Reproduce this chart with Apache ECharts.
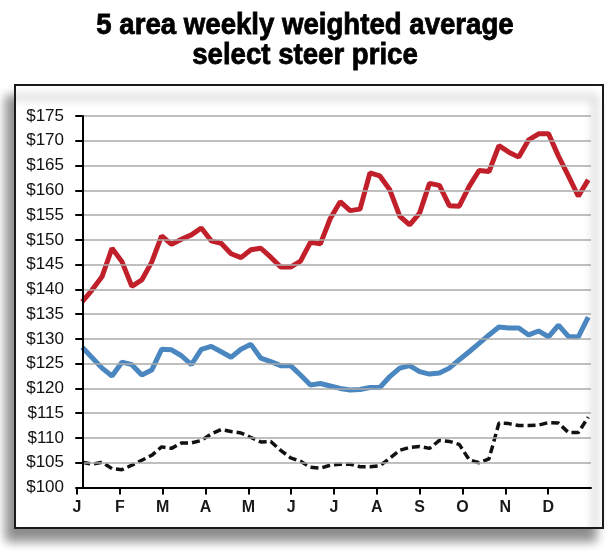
<!DOCTYPE html>
<html>
<head>
<meta charset="utf-8">
<script src="https://cdn.jsdelivr.net/npm/echarts@6/dist/echarts.min.js"></script>
<style>
  html, body { margin: 0; padding: 0; background: #fff; }
  #chart { width: 610px; height: 556px; }
</style>
</head>
<body>
<div id="chart"></div>
<script>
// month labels for the bottom axis (last slot is the year end, no label)
var months = ['J', 'F', 'M', 'A', 'M', 'J', 'J', 'A', 'S', 'O', 'N', 'D', ''];

// weekly prices ($/cwt)
var redLine = [137.5, 139.9, 142.6, 148.3, 145.6, 140.6, 141.9, 145.5, 150.8, 149.1, 150.1, 151.0, 152.4,
  149.8, 149.3, 147.2, 146.4, 148.0, 148.3, 146.5, 144.5, 144.5, 145.7, 149.5, 149.2,
  154.3, 157.7, 155.9, 156.2, 163.5, 162.9, 160.1, 154.8, 153.0, 155.4, 161.4, 161.0, 156.9,
  156.8, 160.8, 164.0, 163.8, 169.0, 167.7, 166.7, 170.2, 171.4, 171.4, 166.9, 162.9, 158.8, 162.1];

var blueLine = [128.3, 126.2, 124.1, 122.5, 125.3, 124.8, 122.7, 123.7, 127.9, 127.8, 126.6, 124.8, 127.9,
  128.5, 127.4, 126.3, 127.9, 128.9, 126.1, 125.4, 124.6, 124.6, 122.7, 120.7, 121.0,
  120.5, 120.0, 119.7, 119.8, 120.2, 120.2, 122.4, 124.1, 124.6, 123.4, 122.9, 123.1, 124.1,
  125.8, 127.4, 129.1, 130.8, 132.4, 132.2, 132.2, 130.8, 131.6, 130.4, 132.8, 130.5, 130.4, 134.4];

var blackLine = [105.1, 104.7, 105.1, 103.8, 103.6, 104.5, 105.5, 106.5, 108.2, 107.9, 109.0, 109.0, 109.5,
  110.8, 111.7, 111.3, 111.0, 110.1, 109.2, 109.3, 107.5, 106.0, 105.3, 104.1, 103.9,
  104.5, 104.7, 104.7, 104.2, 104.2, 104.4, 105.9, 107.5, 108.1, 108.3, 107.9, 109.5, 109.3,
  108.7, 105.6, 105.0, 105.8, 113.0, 112.9, 112.5, 112.5, 112.6, 113.1, 113.0, 111.1, 111.1, 114.2];

// pair each value with its week number
function byWeek(arr) {
  return arr.map(function (v, i) { return [i, v]; });
}

var chart = echarts.init(document.getElementById('chart'));

var titleFont = 'bold 30px "Liberation Sans", Arial, sans-serif';

chart.setOption({
  backgroundColor: '#fff',
  animation: false,
  graphic: [
    {
      type: 'rect',
      z: -10,
      shape: { x: 15, y: 85, width: 588, height: 443 },
      style: {
        fill: '#fff',
        stroke: '#1a1a1a',
        lineWidth: 2,
        shadowBlur: 10,
        shadowColor: 'rgba(0,0,0,0.45)',
        shadowOffsetX: -8,
        shadowOffsetY: 12
      }
    },
    {
      type: 'text',
      x: 305, y: 26, scaleX: 0.92,
      style: {
        text: '5 area weekly weighted average',
        font: titleFont, fill: '#000', stroke: '#000', lineWidth: 0.8,
        textAlign: 'center', textVerticalAlign: 'middle'
      }
    },
    {
      type: 'text',
      x: 305, y: 56, scaleX: 0.92,
      style: {
        text: 'select steer price',
        font: titleFont, fill: '#000', stroke: '#000', lineWidth: 0.8,
        textAlign: 'center', textVerticalAlign: 'middle'
      }
    }
  ],
  grid: { left: 77, right: 19, top: 116, bottom: 68.5, containLabel: false },
  xAxis: [
    {
      // weeks, carries the data
      type: 'value',
      min: -0.53,
      max: 51.28,
      show: false
    },
    {
      // months, only for ticks and labels
      type: 'category',
      position: 'bottom',
      data: months,
      boundaryGap: false,
      z: 5,
      axisLine: { show: true, lineStyle: { color: '#000', width: 2 } },
      axisTick: {
        show: true,
        length: 7,
        interval: function (i) { return i < 12; },
        lineStyle: { color: '#000', width: 2 }
      },
      axisLabel: {
        interval: 0,
        margin: 12,
        color: '#1a1a1a',
        fontSize: 16,
        fontWeight: 'bold',
        fontFamily: '"Liberation Sans", Arial, sans-serif'
      },
      splitLine: { show: false }
    }
  ],
  yAxis: {
    type: 'value',
    min: 100,
    max: 175,
    interval: 5,
    z: 5,
    axisLine: { show: true, lineStyle: { color: '#000', width: 2 } },
    axisTick: { show: true, length: 7, lineStyle: { color: '#000', width: 2 } },
    axisLabel: {
      margin: 13,
      color: '#111',
      fontSize: 17,
      fontFamily: '"Liberation Sans", Arial, sans-serif',
      formatter: function (v) { return '$' + v; }
    },
    splitLine: { show: true, lineStyle: { color: '#aaa', width: 1.6 } }
  },
  series: [
    {
      type: 'line', xAxisIndex: 0, data: byWeek(redLine),
      symbol: 'none', lineStyle: { color: '#c1202b', width: 5 }, z: 4
    },
    {
      type: 'line', xAxisIndex: 0, data: byWeek(blueLine),
      symbol: 'none', lineStyle: { color: '#4a86bf', width: 5 }, z: 3
    },
    {
      type: 'line', xAxisIndex: 0, data: byWeek(blackLine),
      symbol: 'none', lineStyle: { color: '#111', width: 3.5, type: [8, 4] }, z: 2
    }
  ]
});
</script>
</body>
</html>
